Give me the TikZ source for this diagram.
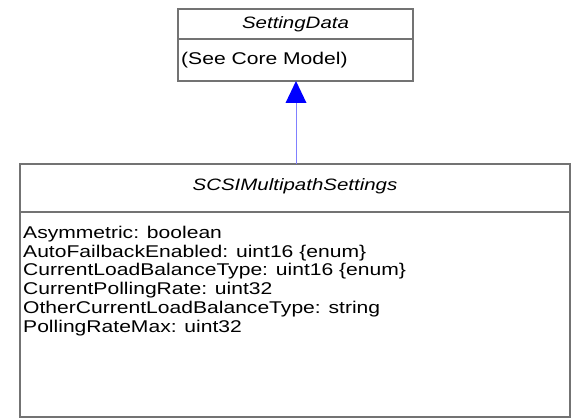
\documentclass[tikz,border=0pt]{standalone}
\usepackage{fontspec}
\setmainfont[FakeStretch=1.24]{Liberation Sans}
\tikzset{
  umlline/.style={draw=black!55, line width=1.2pt},
  attr/.style={anchor=west, inner sep=0pt, font=\fontsize{17}{18}\selectfont},
  cname/.style={inner sep=0pt, font=\fontsize{16.5}{18}\selectfont\itshape},
}
\begin{document}
\begin{tikzpicture}[x=1pt, y=-1pt, >=latex]
    \useasboundingbox (0,0) rectangle (571,419);

    % 1. Lớp SettingData
    \draw[umlline] (178,9) rectangle (413,81);
    \draw[umlline] (178,39) -- (413,39);
    \node[cname] (settingdata) at (295.5,24) {SettingData};
    \node[attr] (seecore) at (181,60) {(See Core Model)};
    \coordinate (sdbottom) at (296,81);

    % 2. Lớp SCSIMultipathSettings
    \draw[umlline] (20,164) rectangle (570,417);
    \draw[umlline] (20,212) -- (570,212);
    \node[cname] (scsims) at (295,186) {SCSIMultipathSettings};
    \node[attr] (a1) at (23,234) {Asymmetric: boolean};
    \node[attr] (a2) at (23,252.8) {AutoFailbackEnabled: uint16 \{enum\}};
    \node[attr] (a3) at (23,271.6) {CurrentLoadBalanceType: uint16 \{enum\}};
    \node[attr] (a4) at (23,290.4) {CurrentPollingRate: uint32};
    \node[attr] (a5) at (23,309.2) {OtherCurrentLoadBalanceType: string};
    \node[attr] (a6) at (23,328) {PollingRateMax: uint32};
    \coordinate (mstop) at (296,164);

    % 3. Kế thừa
    \draw[blue!50, line width=1pt] (mstop) -- (296,103);
    \fill[blue] (sdbottom) -- (306.5,103) -- (285.5,103) -- cycle;
\end{tikzpicture}
\end{document}
